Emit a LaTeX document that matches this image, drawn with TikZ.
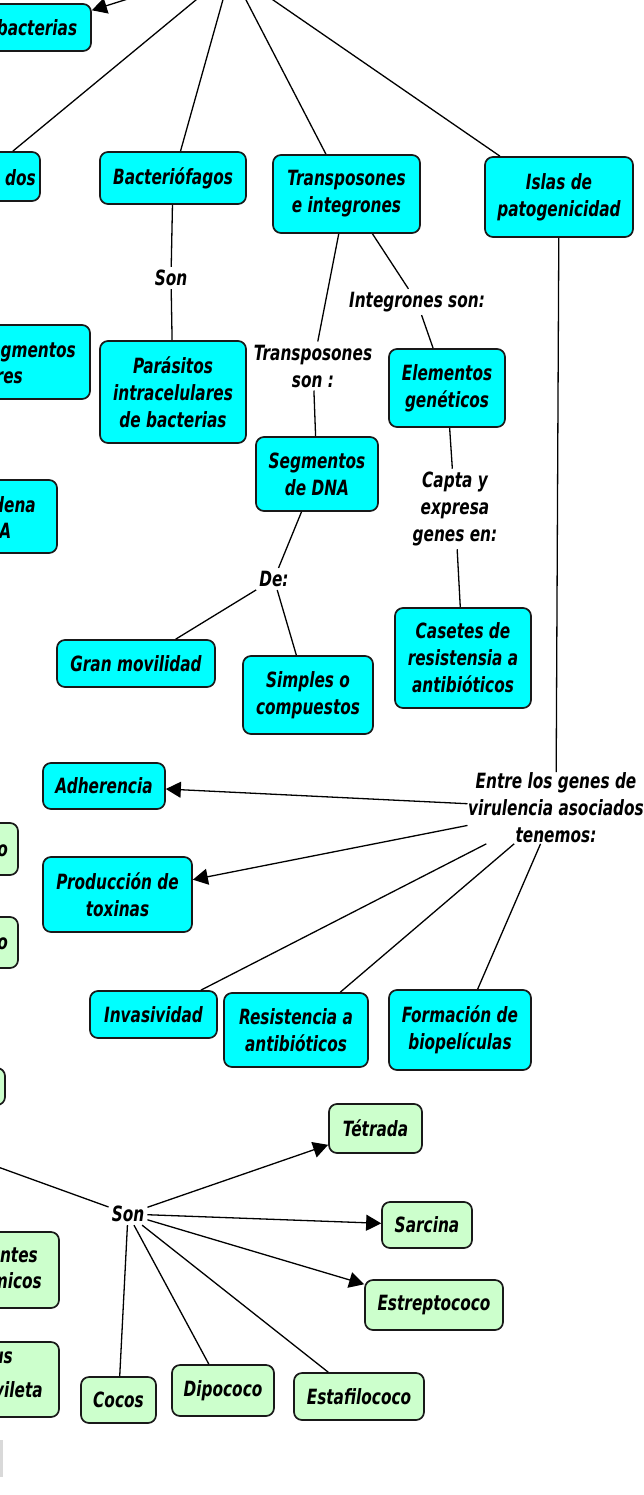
\documentclass[tikz,border=0pt]{standalone}
\usepackage{fontspec}
\setmainfont{DejaVu Sans}[FakeStretch=0.73, UprightFont=*, BoldFont=* Bold, ItalicFont=* Oblique, BoldItalicFont=* Bold Oblique]
\usetikzlibrary{arrows.meta}
\definecolor{cyanbox}{RGB}{0,255,255}
\definecolor{greenbox}{RGB}{204,255,204}
\definecolor{edgecol}{RGB}{25,25,25}
\begin{document}
\begin{tikzpicture}[x=1pt,y=-1pt,
  mapfont/.style={font=\fontsize{21}{27}\selectfont\bfseries\itshape},
  cbox/.style={draw=edgecol, line width=1.7pt, rounded corners=8pt, fill=cyanbox, align=center, inner sep=2pt, mapfont},
  gbox/.style={cbox, fill=greenbox},
  phrase/.style={align=center, inner sep=3pt, mapfont},
  frag/.style={inner sep=0pt, mapfont},
  conn/.style={draw=black, line width=1.3pt},
  arr/.style={conn, -{Triangle[length=15pt,width=16pt]}},
]
\useasboundingbox (0,0) rectangle (644,1495);
\fill[white] (0,0) rectangle (644,1495);
\clip (0,0) rectangle (644,1495);

% free ends
\coordinate (hub) at (231,-29);
\coordinate (bactsrc) at (150,-8);
\coordinate (cleft) at (-60,1146);

% partial boxes at the left edge
\node[cbox, minimum width=108pt, minimum height=47pt] (bact) at (37,27.5) {bacterias};
\node[cbox, minimum width=100pt, minimum height=49pt] (dosbox) at (-10,176.5) {};
\node[frag, anchor=base east] (dostx) at (36,186) {dos};
\node[cbox, minimum width=150pt, minimum height=74pt] (segbox) at (15,362) {};
\node[frag, anchor=base east] (segtxa) at (76,357) {gmentos};
\node[frag, anchor=base east] (segtxb) at (23,383) {res};
\node[cbox, minimum width=117pt, minimum height=73pt] (cadbox) at (-1.5,516.5) {};
\node[frag, anchor=base east] (cadtxa) at (36,512) {dena};
\node[frag, anchor=base east] (cadtxb) at (11.5,538) {A};
\node[gbox, minimum width=98pt, minimum height=52pt] (gone) at (-31,849) {};
\node[frag, anchor=base east] (gonetx) at (8,856) {o};
\node[gbox, minimum width=98pt, minimum height=51pt] (gtwo) at (-31,942.5) {};
\node[frag, anchor=base east] (gtwotx) at (8,949) {o};
\node[gbox, minimum width=85pt, minimum height=37pt] (gthree) at (-37.5,1086.5) {};
\node[gbox, minimum width=139pt, minimum height=76pt] (gfour) at (-10.5,1270) {};
\node[frag, anchor=base east] (gfourtxa) at (38,1262) {entes};
\node[frag, anchor=base east] (gfourtxb) at (42,1288) {micos};
\node[gbox, minimum width=139pt, minimum height=75pt] (gfive) at (-10.5,1379.5) {};
\node[frag, anchor=base east] (gfivetxa) at (13,1363) {us};
\node[frag, anchor=base east] (gfivetxb) at (43,1397) {vileta};

% cyan concepts
\node[cbox, minimum width=146pt, minimum height=52pt] (bacterio) at (173,178) {Bacteriófagos};
\node[cbox, minimum width=147pt, minimum height=78pt] (transp) at (346.5,194) {Transposones\\e integrones};
\node[cbox, minimum width=148pt, minimum height=80pt] (islas) at (559,197) {Islas de\\patogenicidad};
\node[cbox, minimum width=146pt, minimum height=102pt] (paras) at (173,392) {Parásitos\\intracelulares\\de bacterias};
\node[cbox, minimum width=116pt, minimum height=78pt] (elem) at (447,388) {Elementos\\genéticos};
\node[cbox, minimum width=122pt, minimum height=74pt] (segdna) at (317,474) {Segmentos\\de DNA};
\node[cbox, minimum width=158pt, minimum height=47pt] (gran) at (136,663.5) {Gran movilidad};
\node[cbox, minimum width=130pt, minimum height=78pt] (simp) at (308,695) {Simples o\\compuestos};
\node[cbox, minimum width=136pt, minimum height=100pt] (cas) at (463,658) {Casetes de\\resistensia a\\antibióticos};
\node[cbox, minimum width=122pt, minimum height=46pt] (adh) at (104,786) {Adherencia};
\node[cbox, minimum width=149pt, minimum height=75pt] (prod) at (117.5,894.5) {Producción de\\toxinas};
\node[cbox, minimum width=127pt, minimum height=47pt] (inv) at (153.5,1014.5) {Invasividad};
\node[cbox, minimum width=144pt, minimum height=74pt] (res) at (296,1030) {Resistencia a\\antibióticos};
\node[cbox, minimum width=142pt, minimum height=80pt] (form) at (460,1030) {Formación de\\biopelículas};

% green concepts
\node[gbox, minimum width=93pt, minimum height=49pt] (tetr) at (375.5,1128.5) {Tétrada};
\node[gbox, minimum width=90pt, minimum height=46pt] (sarc) at (427,1225) {Sarcina};
\node[gbox, minimum width=138pt, minimum height=50pt] (estr) at (434,1305) {Estreptococo};
\node[gbox, minimum width=75pt, minimum height=46pt] (cocos) at (118.5,1400) {Cocos};
\node[gbox, minimum width=102pt, minimum height=51pt] (dipo) at (223,1390.5) {Dipococo};
\node[gbox, minimum width=130pt, minimum height=47pt] (estaf) at (359,1396.5) {Estafilococo};

% linking phrases
\node[phrase] (son1) at (171,278) {Son};
\node[phrase] (transpson) at (313,366) {Transposones\\son :};
\node[phrase] (integ) at (417,302) {Integrones son:};
\node[phrase] (capta) at (455,509) {Capta y\\expresa\\genes en:};
\node[phrase] (de) at (274,579) {De:};
\node[phrase, inner sep=0.5pt] (entre) at (556,808) {Entre los genes de\\virulencia asociados\\tenemos:};
\node[phrase] (son2) at (128,1214) {Son};

% connectors
\draw[conn] (hub) -- ([xshift=-28pt]dosbox.north east);
\draw[conn] (hub) -- (bacterio);
\draw[conn] (hub) -- (transp);
\draw[conn] (hub) -- (islas);
\draw[arr] (bactsrc) -- (bact);
\draw[conn] (bacterio) -- (son1);
\draw[conn] (son1) -- (paras);
\draw[conn] (transp) -- (transpson);
\draw[conn] (transpson) -- (segdna);
\draw[conn] (transp) -- (integ);
\draw[conn] (integ) -- (elem);
\draw[conn] (elem) -- (capta);
\draw[conn] (capta) -- (cas);
\draw[conn] (segdna) -- (de);
\draw[conn] (de) -- (gran);
\draw[conn] (de) -- (simp);
\draw[conn] (islas) -- (entre);
\draw[arr] (entre) -- (adh);
\draw[arr] (entre) -- (prod);
\draw[conn] (entre) -- (inv);
\draw[conn] (entre) -- (res);
\draw[conn] (entre) -- (form);
\draw[conn] (cleft) -- (son2);
\draw[arr] (son2) -- (tetr);
\draw[arr] (son2) -- (sarc);
\draw[arr] (son2) -- (estr);
\draw[conn] (son2) -- (cocos);
\draw[conn] (son2) -- (dipo);
\draw[conn] (son2) -- (estaf);

% faint mark at the lower left edge
\fill[black!15] (0,1440) rectangle (3,1477);
\end{tikzpicture}
\end{document}
